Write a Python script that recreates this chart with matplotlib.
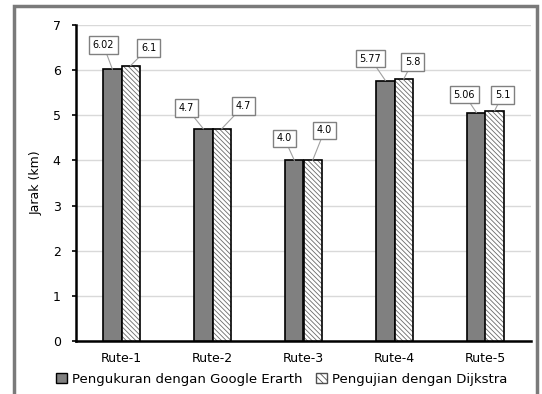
import matplotlib
matplotlib.use("Agg")
import matplotlib.pyplot as plt
from matplotlib.patches import Rectangle, Patch
import numpy as np

categories = ["Rute-1", "Rute-2", "Rute-3", "Rute-4", "Rute-5"]
google_earth = [6.02, 4.7, 4.0, 5.77, 5.06]
dijkstra = [6.1, 4.7, 4.0, 5.8, 5.1]
ge_labels = ["6.02", "4.7", "4.0", "5.77", "5.06"]
dj_labels = ["6.1", "4.7", "4.0", "5.8", "5.1"]
series_names = ["Pengukuran dengan Google Erarth", "Pengujian dengan Dijkstra"]
yticks = [0, 1, 2, 3, 4, 5, 6, 7]

# label offsets in pixels (styling)
ge_off = [(-9, 24), (-17, 21), (-10, 22), (-15, 22), (-12, 18)]
dj_off = [(18, 18), (22, 23), (12, 30), (9, 17), (8, 16)]

plt.rcParams['font.family'] = ['DejaVu Sans']
plt.rcParams['hatch.linewidth'] = 0.6

fig = plt.figure(figsize=(5.42, 3.94), dpi=100)
W, H = 542, 394
ax = fig.add_axes([76 / W, 1 - 341 / H, (531 - 76) / W, (341 - 25) / H])

x = np.arange(len(categories))
bw = 0.2
gray = "#808080"

ax.bar(x - bw / 2, google_earth, bw, color=gray, edgecolor="black", linewidth=1.2, zorder=3)
ax.bar(x + bw / 2, dijkstra, bw, color="white", edgecolor="#6a6a6a", hatch="\\" * 7, linewidth=0, zorder=3)
ax.bar(x + bw / 2, dijkstra, bw, fill=False, edgecolor="black", linewidth=1.2, zorder=4)

box = dict(boxstyle="square,pad=0.4", fc="white", ec="#808080", lw=1)
arrow = dict(arrowstyle="-", color="#a0a0a0", lw=0.8, shrinkA=0, shrinkB=0)
for i in range(len(categories)):
    ax.annotate(ge_labels[i], xy=(x[i] - bw / 2, google_earth[i]), xytext=ge_off[i],
                textcoords="offset pixels", ha="center", va="center", fontsize=7,
                bbox=box, arrowprops=arrow, zorder=5)
    ax.annotate(dj_labels[i], xy=(x[i] + bw / 2, dijkstra[i]), xytext=dj_off[i],
                textcoords="offset pixels", ha="center", va="center", fontsize=7,
                bbox=box, arrowprops=arrow, zorder=5)

ax.set_xlim(-0.5, len(categories) - 0.5)
ax.set_ylim(0, 7)
ax.set_yticks(yticks)
ax.set_xticks(x)
ax.set_xticklabels(categories, fontsize=9)
ax.tick_params(axis="y", labelsize=9, length=3, width=1.2, pad=8)
ax.tick_params(axis="x", length=0, pad=8)
ax.grid(axis="y", color="#d9d9d9", linewidth=1, zorder=0)
for s in ["top", "right"]:
    ax.spines[s].set_visible(False)
for s in ["left", "bottom"]:
    ax.spines[s].set_linewidth(1.8)
ax.set_ylabel("Jarak (km)", fontsize=9, labelpad=7)

handles = [Patch(facecolor=gray, edgecolor="black", linewidth=1),
           Patch(facecolor="white", edgecolor="#505050", hatch="\\" * 5, linewidth=1)]
fig.legend(handles, series_names, loc="center", bbox_to_anchor=(0.52, 1 - 379 / H), ncol=2,
           frameon=False, fontsize=9.5, handlelength=0.8, handleheight=0.8,
           handletextpad=0.4, columnspacing=1.0)

fig.patches.append(Rectangle((14 / W, -0.05), (537 - 14) / W, (1 - 6 / H) + 0.05,
                             transform=fig.transFigure, fill=False, ec="#7a7a7a", lw=2.5))

fig.savefig("out.png", dpi=100)
